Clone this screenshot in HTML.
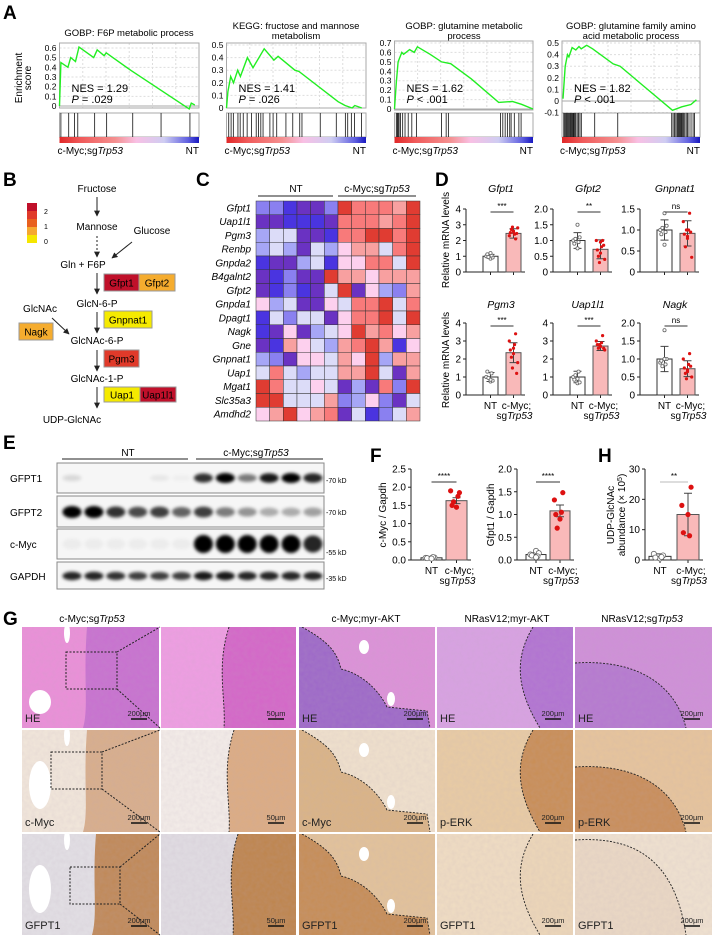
<!DOCTYPE html>
<html><head><meta charset="utf-8"><style>
html,body{margin:0;padding:0;background:#fff;}
svg{display:block;font-family:"Liberation Sans",Arial,sans-serif;}
.pl{font-weight:bold;font-size:19px;}
.t9{font-size:9.5px;}
.t10{font-size:10px;}
.t11{font-size:11px;}
</style></head><body>
<svg id="fig" width="714" height="936" viewBox="0 0 714 936" xmlns="http://www.w3.org/2000/svg">
<defs>
<marker id="arr" viewBox="0 0 10 10" refX="9" refY="5" markerWidth="6" markerHeight="6" orient="auto"><path d="M0,0L10,5L0,10z" fill="#222"/></marker>
<linearGradient id="rankbar" x1="0" x2="1"><stop offset="0" stop-color="#e02828"/><stop offset="0.15" stop-color="#f05a5a"/><stop offset="0.4" stop-color="#f49090"/><stop offset="0.55" stop-color="#f8c0e4"/><stop offset="0.75" stop-color="#cfcdf2"/><stop offset="0.92" stop-color="#6060e0"/><stop offset="1" stop-color="#1818c0"/></linearGradient>
<filter id="blur" x="-50%" y="-100%" width="200%" height="300%"><feGaussianBlur stdDeviation="1.6"/></filter>
<filter id="tex" x="0" y="0" width="100%" height="100%"><feTurbulence type="fractalNoise" baseFrequency="0.25" numOctaves="2" seed="3"/><feColorMatrix values="0 0 0 0 0.5  0 0 0 0 0.4  0 0 0 0 0.5  0 0 0 0.35 -0.05"/><feComposite in2="SourceGraphic" operator="in"/></filter>
</defs>

<text class="pl" x="3" y="19">A</text>
<text class="pl" x="3" y="186">B</text>
<text class="pl" x="196" y="186">C</text>
<text class="pl" x="435" y="186">D</text>
<text class="pl" x="3" y="449">E</text>
<text class="pl" x="370" y="462">F</text>
<text class="pl" x="598" y="462">H</text>
<text class="pl" x="3" y="625">G</text>

<g class="t9" text-anchor="middle">
<text x="129" y="36">GOBP: F6P metabolic process</text>
<text x="296" y="29">KEGG: fructose and mannose</text><text x="296" y="39">metabolism</text>
<text x="464" y="29">GOBP: glutamine metabolic</text><text x="464" y="39">process</text>
<text x="631" y="29">GOBP: glutamine family amino</text><text x="631" y="39">acid metabolic process</text>
</g>
<g class="t10">
<text transform="translate(22,78) rotate(-90)" text-anchor="middle">Enrichment</text>
<text transform="translate(31,78) rotate(-90)" text-anchor="middle">score</text>
</g>
<g id="gsea"></g>

<g class="t10" text-anchor="middle">
<rect x="27" y="203" width="10" height="8" fill="#c0102a"/><rect x="27" y="211" width="10" height="8" fill="#e03a2a"/><rect x="27" y="219" width="10" height="8" fill="#e8601e"/><rect x="27" y="227" width="10" height="8" fill="#f5a830"/><rect x="27" y="235" width="10" height="8" fill="#f5e600"/>
<text x="44" y="214" font-size="7" text-anchor="start">2</text><text x="44" y="229" font-size="7" text-anchor="start">1</text><text x="44" y="244" font-size="7" text-anchor="start">0</text>
<text x="97" y="192">Fructose</text>
<line x1="97" y1="197" x2="97" y2="216" stroke="#222" marker-end="url(#arr)"/>
<text x="97" y="230">Mannose</text>
<line x1="97" y1="236" x2="97" y2="257" stroke="#222" stroke-dasharray="2,2" marker-end="url(#arr)"/>
<text x="152" y="234">Glucose</text>
<line x1="132" y1="242" x2="112" y2="258" stroke="#222" marker-end="url(#arr)"/>
<text x="83" y="268">Gln + F6P</text>
<line x1="97" y1="273" x2="97" y2="294" stroke="#222" marker-end="url(#arr)"/>
<rect x="104" y="274" width="35" height="17" fill="#c0102a" stroke="#999"/><text x="121.5" y="286.5">Gfpt1</text>
<rect x="139" y="274" width="36" height="17" fill="#f5ac2e" stroke="#999"/><text x="157" y="286.5">Gfpt2</text>
<text x="97" y="307">GlcN-6-P</text>
<line x1="97" y1="312" x2="97" y2="333" stroke="#222" marker-end="url(#arr)"/>
<rect x="104" y="311" width="48" height="17" fill="#f5ea00" stroke="#999"/><text x="128" y="323.5">Gnpnat1</text>
<text x="40" y="312">GlcNAc</text>
<line x1="52" y1="318" x2="69" y2="334" stroke="#222" marker-end="url(#arr)"/>
<rect x="19" y="323" width="34" height="17" fill="#f5ac2e" stroke="#999"/><text x="36" y="335.5">Nagk</text>
<text x="97" y="344">GlcNAc-6-P</text>
<line x1="97" y1="350" x2="97" y2="371" stroke="#222" marker-end="url(#arr)"/>
<rect x="104" y="350" width="35" height="17" fill="#e03a2a" stroke="#999"/><text x="121.5" y="362.5">Pgm3</text>
<text x="97" y="382">GlcNAc-1-P</text>
<line x1="97" y1="387" x2="97" y2="408" stroke="#222" marker-end="url(#arr)"/>
<rect x="104" y="387" width="36" height="15" fill="#f5ea00" stroke="#999"/><text x="122" y="398.5">Uap1</text>
<rect x="140" y="387" width="36" height="15" fill="#c0102a" stroke="#999"/><text x="158" y="398.5">Uap1l1</text>
<text x="72" y="423">UDP-GlcNAc</text>
</g>

<g class="t10" text-anchor="middle">
<text x="296" y="192">NT</text><line x1="258" y1="196" x2="333" y2="196" stroke="#222"/>
<text x="377" y="192">c-Myc;sg<tspan font-style="italic">Trp53</tspan></text><line x1="338" y1="196" x2="416" y2="196" stroke="#222"/>
</g>
<g id="heat"></g>

<g class="t10">
<text transform="translate(449,240) rotate(-90)" text-anchor="middle">Relative mRNA levels</text>
<text transform="translate(449,360) rotate(-90)" text-anchor="middle">Relative mRNA levels</text>
</g>
<g id="dcharts"></g>

<g class="t10" text-anchor="middle">
<text x="128" y="456">NT</text><line x1="62" y1="459" x2="188" y2="459" stroke="#222"/>
<text x="256" y="456">c-Myc;sg<tspan font-style="italic">Trp53</tspan></text><line x1="196" y1="459" x2="323" y2="459" stroke="#222"/>
</g>
<g id="western"></g>

<g id="fh"></g>

<g class="t10" text-anchor="middle">
<text x="92" y="622">c-Myc;sg<tspan font-style="italic">Trp53</tspan></text>
<text x="366" y="622">c-Myc;myr-AKT</text>
<text x="507" y="622">NRasV12;myr-AKT</text>
<text x="642" y="622">NRasV12;sg<tspan font-style="italic">Trp53</tspan></text>
</g>
<g id="histo"></g>
</svg>

<script>
const NS='http://www.w3.org/2000/svg';
function mk(tag,attrs,parent){const e=document.createElementNS(NS,tag);for(const k in attrs)e.setAttribute(k,attrs[k]);parent.appendChild(e);return e;}

/* ---------- A: GSEA data ---------- */
const gseaCurve1=[[0,0],[0.01,0.45],[0.06,0.40],[0.08,0.50],[0.115,0.46],[0.14,0.61],[0.245,0.50],[0.27,0.58],[0.32,0.52],[0.335,0.55],[0.51,0.37],[0.93,-0.03],[0.945,0.03],[0.97,0.01]];
const gseaCurve2=[[0,0],[0.01,0.13],[0.03,0.25],[0.05,0.2],[0.08,0.3],[0.1,0.25],[0.15,0.4],[0.19,0.32],[0.27,0.47],[0.34,0.38],[0.37,0.41],[0.49,0.3],[0.52,0.29],[0.8,0.05],[0.85,0.02],[0.9,0],[0.92,0.02],[0.97,0]];
const gseaCurve3=[[0,0],[0.013,0.28],[0.026,0.5],[0.053,0.6],[0.066,0.58],[0.109,0.63],[0.142,0.6],[0.165,0.66],[0.257,0.58],[0.34,0.5],[0.406,0.48],[0.554,0.32],[0.752,0.07],[0.851,0.08],[0.917,0.05],[1,0]];
const gseaCurve4=[[0.007,0.02],[0.023,0.3],[0.04,0.4],[0.05,0.38],[0.073,0.46],[0.1,0.44],[0.123,0.47],[0.139,0.45],[0.179,0.48],[0.222,0.45],[0.371,0.32],[0.421,0.3],[0.57,0.15],[0.801,-0.08],[0.868,-0.05],[0.934,-0.03],[0.974,0.01]];
const gseaHits1=[0.01,0.066,0.108,0.131,0.252,0.338,0.525,0.728,0.935];
const gseaHits2=[0.016,0.033,0.049,0.082,0.098,0.12,0.148,0.18,0.213,0.23,0.246,0.262,0.311,0.334,0.36,0.426,0.475,0.525,0.541,0.672,0.787,0.852,0.869,0.895,0.918,0.967];
const gseaHits3=[0.013,0.02,0.026,0.033,0.043,0.059,0.076,0.099,0.125,0.158,0.34,0.373,0.389,0.766,0.782,0.799,0.815,0.832,0.842,0.865,0.898,0.914];
const gseaHits4=[0.013,0.02,0.027,0.033,0.04,0.046,0.053,0.06,0.066,0.073,0.08,0.086,0.093,0.1,0.11,0.12,0.13,0.14,0.237,0.404,0.795,0.805,0.815,0.825,0.834,0.841,0.848,0.855,0.862,0.868,0.875,0.882,0.89,0.9,0.91,0.92,0.935,0.95,0.96];
const gseaTicks1=[0,0.1,0.2,0.3,0.4,0.5,0.6];
const gseaTicks2=[0,0.1,0.2,0.3,0.4,0.5];
const gseaTicks3=[0,0.1,0.2,0.3,0.4,0.5,0.6,0.7];
const gseaTicks4=[-0.1,0,0.1,0.2,0.3,0.4,0.5];
const gseaNES=['NES = 1.29','NES = 1.41','NES = 1.62','NES = 1.82'];
const gseaP=['= .029','= .026','< .001','< .001'];

const gseaLayout=[
 {x0:59.5,x1:199,y0:43,y1:108,zeroY:106,unit:96.7},
 {x0:226.5,x1:366,y0:43,y1:108,zeroY:108,unit:126},
 {x0:394.5,x1:533,y0:41,y1:110,zeroY:109,unit:94.3},
 {x0:562,x1:700,y0:41,y1:114,zeroY:101,unit:116}
];
const gseaCurves=[gseaCurve1,gseaCurve2,gseaCurve3,gseaCurve4];
const gseaHits=[gseaHits1,gseaHits2,gseaHits3,gseaHits4];
const gseaTicks=[gseaTicks1,gseaTicks2,gseaTicks3,gseaTicks4];
const gG=document.getElementById('gsea');
gseaLayout.forEach((L,i)=>{
  const g=mk('g',{},gG);
  
  
  const xs=f=>L.x0+f*(L.x1-L.x0);
  const ys=v=>L.zeroY-v*L.unit;
  for(let k=1;k<6;k++){mk('line',{x1:xs(k/6),x2:xs(k/6),y1:L.y0,y2:L.y1,stroke:'#ddd','stroke-dasharray':'2,2'},g);}
  gseaTicks[i].forEach(t=>{
    const y=ys(t);
    mk('line',{x1:L.x0,x2:L.x1,y1:y,y2:y,stroke:'#ddd','stroke-dasharray':'2,2'},g);
    const tl=mk('text',{x:L.x0-3,y:y+3,'font-size':'8.5','text-anchor':'end'},g);
    tl.textContent=String(t);
    
    
  });
  mk('line',{x1:L.x0,x2:L.x1,y1:ys(0),y2:ys(0),stroke:'#aaa'},g);
  const fr=mk('rect',{x:L.x0,y:L.y0,width:L.x1-L.x0,height:L.y1-L.y0,fill:'none',stroke:'#aaa'},g);
  
  
  const pts=gseaCurves[i].map(p=>xs(p[0]).toFixed(1)+','+ys(p[1]).toFixed(1)).join(' ');
  const pl=mk('polyline',{points:pts,fill:'none',stroke:'#22ee22','stroke-width':'1.4'},g);
  
  
  const hb=mk('rect',{x:L.x0,y:113,width:L.x1-L.x0,height:24,fill:'#fff',stroke:'#aaa'},g);
  
  
  gseaHits[i].forEach(h=>{
    const hl=mk('line',{x1:xs(h),x2:xs(h),y1:113,y2:137,stroke:'#111','stroke-width':'0.8'},g);
    
    
  });
  const rb=mk('rect',{x:L.x0,y:137,width:L.x1-L.x0,height:6,fill:'url(#rankbar)'},g);
  
  
  const t1=mk('text',{x:L.x0+12,y:92,'font-size':'11'},g);
  t1.textContent=gseaNES[i];
  
  
  const t2=mk('text',{x:L.x0+12,y:103,'font-size':'11'},g);
  t2.innerHTML='<tspan font-style="italic">P</tspan> '+gseaP[i];
  
  
  const bl=mk('text',{x:L.x0-2,y:154,'font-size':'10'},g);
  bl.innerHTML='c-Myc;sg<tspan font-style="italic">Trp53</tspan>';
  
  
  const br=mk('text',{x:L.x1,y:154,'font-size':'10','text-anchor':'end'},g);
  br.textContent='NT';
  
  
});

/* ---------- C: heatmap ---------- */
const heatRowNames=['Gfpt1','Uap1l1','Pgm3','Renbp','Gnpda2','B4galnt2','Gfpt2','Gnpda1','Dpagt1','Nagk','Gne','Gnpnat1','Uap1','Mgat1','Slc35a3','Amdhd2'];
const heatCodes=[
'MMBPPMDRRRSD','PPBBBPRRRSRD','LWWPPBRRDDRD','LWLPWLKSSWRD','BPPLWBKKRRWD','PBMPPDSSKSSS','PBMBPWDPKLMS','KLWPPKWRRDWR','BWMWWPKRRDWD','BPKPLWKDSRKS','PBSKWLSRDSBK','LMPKKWSKDLSS','WRWLWWSSDWPS','DRWWKWPLPRMD','DDWWWSMLKMPW','KSDKSRPWBMWS'];
const heatCodeVal={B:-2,P:-1.7,M:-1.3,L:-0.9,W:-0.4,K:0.3,S:0.8,R:1.3,D:2};
const heatValues=heatCodes.map(r=>r.split('').map(c=>heatCodeVal[c]));
const heatStops=[[-2,[74,52,224]],[-1.7,[106,50,194]],[-1.3,[138,128,240]],[-0.9,[166,166,246]],[-0.4,[220,220,248]],[0.3,[253,208,238]],[0.8,[248,160,160]],[1.3,[248,122,122]],[2,[224,60,50]]];
function heatColor(v){for(let i=0;i<heatStops.length-1;i++){const a=heatStops[i],b=heatStops[i+1];if(v<=b[0]){const t=Math.max(0,(v-a[0])/(b[0]-a[0]));const c=a[1].map((x,j)=>Math.round(x+(b[1][j]-x)*t));return 'rgb('+c+')';}}return 'rgb(224,60,50)';}
const hG=document.getElementById('heat');
const hx0=256,hx1=420,hy0=201;
const cw=(hx1-hx0)/12;
const rh2=(421-201)/heatRowNames.length;
heatRowNames.forEach((nm,r)=>{
  const lab=mk('text',{x:hx0-5,y:hy0+r*rh2+rh2/2+3.5,'font-size':'10','font-style':'italic','text-anchor':'end'},hG);
  lab.textContent=nm;
  
  
  heatValues[r].forEach((v,c)=>{
    const cell=mk('rect',{x:hx0+c*cw,y:hy0+r*rh2,width:cw,height:rh2,fill:heatColor(v),stroke:'#333','stroke-width':'0.5'},hG);
    
    
  });
});

/* ---------- D: qPCR bar charts ---------- */
const dGenes=['Gfpt1','Gfpt2','Gnpnat1','Pgm3','Uap1l1','Nagk'];
const dMax=[4,2,1.5,4,4,2];
const dStep=[1,0.5,0.5,1,1,0.5];
const dNtMean=[1,1,1,1,1,1];
const dNtSd=[0.12,0.25,0.24,0.25,0.32,0.35];
const dTrMean=[2.45,0.72,0.92,2.35,2.72,0.73];
const dTrSd=[0.3,0.3,0.3,0.55,0.25,0.22];
const dSig=['***','**','ns','***','***','ns'];
const dNtPts=[[0.85,0.92,1.0,1.05,1.12,1.2,0.95],[1.5,1.1,1.0,0.95,0.9,0.75,1.05],[1.4,1.1,1.0,0.95,0.9,0.65,1.05],[0.75,0.8,1.0,1.2,1.3,0.85,0.95],[0.65,0.7,1.0,1.3,0.85,0.9,1.1],[1.8,1.0,0.9,0.85,0.95,1.0,0.8]];
const dTrPts=[[2.1,2.3,2.4,2.5,2.6,2.7,2.8,2.85,2.45,2.55],[1.0,1.0,0.8,0.7,0.6,0.5,0.4,0.3,0.85,0.95],[1.4,1.2,1.0,0.9,0.8,0.6,0.35,1.0,0.95,0.85],[3.4,3.0,2.8,2.5,2.3,2.1,1.8,1.5,1.2,2.6],[3.3,3.0,2.9,2.8,2.7,2.6,2.5,2.8,2.6,2.7],[1.15,1.0,0.85,0.75,0.7,0.6,0.5,0.45,0.8,0.65]];
const dLayout=[{ax:466,top:209,zero:272,ty:192},{ax:553,top:209,zero:272,ty:192},{ax:640,top:209,zero:272,ty:192},{ax:466,top:323,zero:395,ty:308},{ax:553,top:323,zero:395,ty:308},{ax:640,top:323,zero:395,ty:308}];
const dG=document.getElementById('dcharts');
function jitter(k,n){return (k%2?1:-1)*((k*37)%5)/5*0.35*n;}
function barChart(parent,L,maxV,step,ntM,ntSd,trM,trSd,ntP,trP,sig,bw,gap,opts){
  const ys=v=>L.zero-(v/maxV)*(L.zero-L.top);
  const ntC=L.ax+gap+bw/2, trC=ntC+bw+opts.between;
  mk('line',{x1:L.ax,x2:L.ax,y1:L.top,y2:L.zero,stroke:'#222'},parent);
  mk('line',{x1:L.ax,x2:trC+bw/2+4,y1:L.zero,y2:L.zero,stroke:'#222'},parent);
  for(let v=0;v<=maxV+1e-9;v+=step){
    const y=ys(v);
    mk('line',{x1:L.ax-3,x2:L.ax,y1:y,y2:y,stroke:'#222'},parent);
    const t=mk('text',{x:L.ax-5,y:y+3.5,'font-size':opts.fs,'text-anchor':'end'},parent);
    t.textContent=opts.fmt(v);
    
    
  }
  [ntC,trC].forEach(c=>mk('line',{x1:c,x2:c,y1:L.zero,y2:L.zero+3,stroke:'#222'},parent));
  const b1=mk('rect',{x:ntC-bw/2,y:ys(ntM),width:bw,height:L.zero-ys(ntM),fill:'#fff',stroke:'#333'},parent);
  
  
  const b2=mk('rect',{x:trC-bw/2,y:ys(trM),width:bw,height:L.zero-ys(trM),fill:'#f9b9b9',stroke:'#555'},parent);
  
  
  [[ntC,ntM,ntSd],[trC,trM,trSd]].forEach(a=>{
    const eb=mk('path',{d:`M${a[0]},${ys(a[1]-a[2])}V${ys(a[1]+a[2])}M${a[0]-4},${ys(a[1]-a[2])}h8M${a[0]-4},${ys(a[1]+a[2])}h8`,stroke:'#444',fill:'none'},parent);
    
    
  });
  ntP.forEach((v,k)=>{
    const p=mk('circle',{cx:ntC+jitter(k,bw),cy:ys(v),r:opts.r,fill:'#fff',stroke:'#666','stroke-width':'0.8'},parent);
    
    
  });
  trP.forEach((v,k)=>{
    const p=mk('circle',{cx:trC+jitter(k+1,bw),cy:ys(v),r:opts.r,fill:'#dd1111'},parent);
    
    
  });
  mk('line',{x1:ntC,x2:trC,y1:L.sigY,y2:L.sigY,stroke:opts.sigStroke||'#333'},parent);
  const s=mk('text',{x:(ntC+trC)/2,y:L.sigY-3,'font-size':'8','text-anchor':'middle'},parent);
  s.textContent=sig;
  
  
  if(opts.xlabels){
    const a=mk('text',{x:ntC,y:L.zero+14,'font-size':opts.fs,'text-anchor':'middle'},parent);a.textContent='NT';
    
    
    const b=mk('text',{x:trC+3,y:L.zero+14,'font-size':opts.fs,'text-anchor':'middle'},parent);b.textContent='c-Myc;';
    
    
    const c=mk('text',{x:trC+1,y:L.zero+24,'font-size':opts.fs,'text-anchor':'middle'},parent);c.innerHTML='sg<tspan font-style="italic">Trp53</tspan>';
    
    
  }
}
dGenes.forEach((gName,i)=>{
  const L=Object.assign({},dLayout[i]);L.sigY=L.top+3;
  const g=mk('g',{},dG);
  
  
  const t=mk('text',{x:L.ax+35,y:L.ty,'font-size':'10.5','font-style':'italic','text-anchor':'middle'},g);
  t.textContent=gName;
  
  
  barChart(g,L,dMax[i],dStep[i],dNtMean[i],dNtSd[i],dTrMean[i],dTrSd[i],dNtPts[i],dTrPts[i],dSig[i],15,17,{between:8,fs:'10',r:1.6,fmt:v=>dStep[i]<1?(v===0?'0':v.toFixed(1)):String(v),xlabels:i>=3});
});

/* ---------- E: western blot ---------- */
const wbLanes=[1,2,3,4,5,6,7,8,9,10,11,12];
const wbGFPT1=[0.12,0,0,0,0.06,0.03,0.8,1,0.5,0.9,1,0.85];
const wbGFPT2=[1,1,0.8,0.7,0.75,0.6,0.75,0.5,0.4,0.3,0.3,0.35];
const wbCMYC=[0.04,0.04,0.04,0.04,0.04,0.04,1,1,1,1,1,0.85];
const wbGAPDH=[0.85,0.85,0.8,0.75,0.75,0.75,0.9,0.9,0.85,0.85,0.85,0.85];
const wbNames=['GFPT1','GFPT2','c-Myc','GAPDH'];
const wbData=[wbGFPT1,wbGFPT2,wbCMYC,wbGAPDH];
const wbBoxes=[[463,493,478,5],[496,527,512,6],[529,559,544,9],[562,589,576,4.5]];
const wbKD=[['70 kD',480],['70 kD',512],['55 kD',552],['35 kD',578]];
const wG=document.getElementById('western');
const laneX=n=>72+(n-1)*21.9;
wbNames.forEach((nm,i)=>{
  const B=wbBoxes[i];
  const g=mk('g',{},wG);
  
  
  mk('rect',{x:57,y:B[0],width:267,height:B[1]-B[0],fill:'#f6f6f6',stroke:'#888'},g);
  const l=mk('text',{x:10,y:B[2]+4,'font-size':'10'},g);l.textContent=nm;
  
  
  wbData[i].forEach((v,k)=>{
    const e=mk('ellipse',{cx:laneX(wbLanes[k]),cy:B[2],rx:9.5,ry:B[3]*(0.6+0.4*v),fill:'#000','fill-opacity':v,filter:'url(#blur)'},g);
    
    
  });
  const kd=mk('text',{x:326,y:wbKD[i][1]+3,'font-size':'7'},g);kd.textContent='-'+wbKD[i][0];
  
  
});

/* ---------- F/H ---------- */
const fMyc=[0.06,1.63],fMycSd=[0.02,0.08];
const fMycNt=[0.05,0.07,0.06,0.08,0.05,0.04],fMycTr=[1.85,1.9,1.75,1.5,1.45,1.6];
const fGfpt=[0.12,1.08],fGfptSd=[0.04,0.13];
const fGfptNt=[0.2,0.15,0.12,0.08,0.1,0.06],fGfptTr=[1.48,1.32,1.05,1.0,0.9,0.7];
const hUdp=[1.2,15],hUdpSd=[0.8,7];
const hUdpNt=[0.5,1.5,2.0,1.0,0.8],hUdpTr=[24,18,8,9,15];
const fhG=document.getElementById('fh');
const fhCharts=[
 {name:'c-myc-gapdh',title:'c-Myc / Gapdh',tx:386,ax:411,max:2.5,step:0.5,fmt:v=>v.toFixed(1),m:fMyc,sd:fMycSd,nt:fMycNt,tr:fMycTr,sig:'****',bw:21,gap:10,between:4},
 {name:'gfpt1-gapdh',title:'Gfpt1 / Gapdh',tx:494,ax:517,max:2.0,step:0.5,fmt:v=>v.toFixed(1),m:fGfpt,sd:fGfptSd,nt:fGfptNt,tr:fGfptTr,sig:'****',bw:20,gap:9,between:4},
 {name:'udp-glcnac',title:null,tx:0,ax:645,max:30,step:10,fmt:v=>String(v),m:hUdp,sd:hUdpSd,nt:hUdpNt,tr:hUdpTr,sig:'**',bw:22,gap:4,between:6}
];
fhCharts.forEach(c=>{
  const g=mk('g',{},fhG);
  
  
  const L={ax:c.ax,top:469,zero:560,sigY:482};
  barChart(g,L,c.max,c.step,c.m[0],c.sd[0],c.m[1],c.sd[1],c.nt,c.tr,c.sig,c.bw,c.gap,{between:c.between,fs:'10',r:2.6,fmt:c.fmt,xlabels:true,sigStroke:c.sig==='**'?'#bbb':'#333'});
  if(c.title){
    const t=mk('text',{transform:`translate(${c.tx},515) rotate(-90)`,'font-size':'10','text-anchor':'middle'},g);
    t.textContent=c.title;
    
    
  } else {
    const t1=mk('text',{transform:'translate(614,515) rotate(-90)','font-size':'10','text-anchor':'middle'},g);
    t1.textContent='UDP-GlcNAc';
    
    
    const t2=mk('text',{transform:'translate(625,515) rotate(-90)','font-size':'10','text-anchor':'middle'},g);
    t2.innerHTML='abundance (× 10<tspan baseline-shift="super" font-size="7">5</tspan>)';
    
    
  }
});

/* ---------- G: histology ---------- */
const hisG=document.getElementById('histo');
const cols=[[22,159],[161,296],[299,435],[437,573],[575,712]];
const rows=[[627,728],[730,832],[834,935]];
const rowLabels=[['HE','','HE','HE','HE'],['c-Myc','','c-Myc','p-ERK','p-ERK'],['GFPT1','','GFPT1','GFPT1','GFPT1']];
const bgCol=[
 ['#ea90d8','#ee9ee2','#dc92d8','#d8a2e2','#cf90d8'],
 ['#f1e6da','#f3ece8','#efe0cc','#e8cba4','#e6c49c'],
 ['#e2dfe4','#e0dce2','#e2c29a','#efdcc2','#efe1cf']];
const tumCol=[
 ['#c872d0','#d468c8','#9e6ac8','#b274d2','#b67ad0'],
 ['#d8ae8c','#dcac84','#dab487','#c98f58','#c98f5c'],
 ['#c08a5a','#be8650','#c68e58','#ecd6b8','#ead8c4']];
function tumorPath(c,r){
  const [x0,x1]=cols[c],[y0,y1]=rows[r];
  if(c===0){const bx=r===2?96:87;return `M${bx},${y0}C${bx-4},${(y0+y1)/2} ${bx+2},${y1-20} ${bx-4},${y1}L${x1},${y1}L${x1},${y0}Z`;}
  if(c===1){const bx=r===0?224:(r===1?229:233);return `M${bx+5},${y0}C${bx-8},${y0+40} ${bx+2},${y1-30} ${bx},${y1}L${x1},${y1}L${x1},${y0}Z`;}
  if(c===2){return `M${x0},${y0}L${x0+3},${y0}C${x0+30},${y0+15} ${x0+38},${y0+25} ${x0+42},${y0+42}C${x0+60},${y0+46} ${x0+78},${y0+60} ${x0+88},${y0+80}L${x1-8},${y0+84}L${x1-5},${y1}L${x0},${y1}Z`;}
  if(c===3){return `M${x0+96},${y0}C${x0+78},${y0+30} ${x0+78},${y0+60} ${x0+103},${y1}L${x1},${y1}L${x1},${y0}Z`;}
  const sy=r===0?y0+36:(r===1?y0+37:y0+6);
  return `M${x0},${sy}C${x0+60},${sy-4} ${x0+100},${sy+20} ${x1-26},${y1}L${x0},${y1}Z`;
}
function boundaryPath(c,r){
  const [x0,x1]=cols[c],[y0,y1]=rows[r];
  if(c===2)return `M${x0+3},${y0}C${x0+30},${y0+15} ${x0+38},${y0+25} ${x0+42},${y0+42}C${x0+60},${y0+46} ${x0+78},${y0+60} ${x0+88},${y0+80}L${x1-8},${y0+84}L${x1-5},${y1}`;
  if(c===3)return `M${x0+96},${y0}C${x0+78},${y0+30} ${x0+78},${y0+60} ${x0+103},${y1}`;
  if(c===4){const sy=r===0?y0+36:(r===1?y0+37:y0+6);return `M${x0},${sy}C${x0+60},${sy-4} ${x0+100},${sy+20} ${x1-26},${y1}`;}
  if(c===1){const bx=r===0?224:(r===1?229:233);return `M${bx+5},${y0}C${bx-8},${y0+40} ${bx+2},${y1-30} ${bx},${y1}`;}
  return null;
}
rows.forEach((R,r)=>{
  cols.forEach((C,c)=>{
    const g=mk('g',{},hisG);
    
    
    const cp='cp'+r+'_'+c;
    const clip=mk('clipPath',{id:cp},g);mk('rect',{x:C[0],y:R[0],width:C[1]-C[0],height:R[1]-R[0]},clip);
    const inner=mk('g',{'clip-path':`url(#${cp})`},g);
    mk('rect',{x:C[0],y:R[0],width:C[1]-C[0],height:R[1]-R[0],fill:bgCol[r][c]},inner);
    mk('path',{d:tumorPath(c,r),fill:tumCol[r][c]},inner);
    mk('rect',{x:C[0],y:R[0],width:C[1]-C[0],height:R[1]-R[0],fill:'#fff',filter:'url(#tex)',opacity:'0.6'},inner);
    if(c===0){mk('ellipse',{cx:C[0]+18,cy:R[0]+(r===0?75:55),rx:11,ry:r===0?12:24,fill:'#fff'},inner);mk('ellipse',{cx:C[0]+45,cy:R[0]+6,rx:3,ry:10,fill:'#fff'},inner);}
    if(c===2){mk('ellipse',{cx:C[0]+65,cy:R[0]+20,rx:5,ry:7,fill:'#fff'},inner);mk('ellipse',{cx:C[0]+92,cy:R[0]+72,rx:4,ry:7,fill:'#fff'},inner);}
    const bp=boundaryPath(c,r);
    if(bp){const bl=mk('path',{d:bp,fill:'none',stroke:'#222','stroke-dasharray':'2,1.5','stroke-width':'0.9'},inner);
      
      }
    if(rowLabels[r][c]){const t=mk('text',{x:C[0]+3,y:R[1]-6,'font-size':'11',fill:'#222'},g);t.textContent=rowLabels[r][c];
      
      }
    const sb=mk('text',{x:C[1]-20,y:R[1]-12,'font-size':'7.5','text-anchor':'middle',fill:'#222'},g);sb.textContent=(c===1)?'50µm':'200µm';
    
    
    mk('line',{x1:C[1]-28,x2:C[1]-12,y1:R[1]-9,y2:R[1]-9,stroke:'#111','stroke-width':'1.5'},g);
  });
});
const zoomRects=[[66,652,117,689],[51,752,102,789],[70,867,120,904]];
zoomRects.forEach((z,r)=>{
  const R=rows[r];
  const zr=mk('rect',{x:z[0],y:z[1],width:z[2]-z[0],height:z[3]-z[1],fill:'none',stroke:'#222','stroke-dasharray':'2,1.5'},hisG);
  
  
  mk('line',{x1:z[2],y1:z[1],x2:160,y2:R[0],stroke:'#222','stroke-dasharray':'2,1.5'},hisG);
  mk('line',{x1:z[2],y1:z[3],x2:160,y2:R[1],stroke:'#222','stroke-dasharray':'2,1.5'},hisG);
});
</script>
</body></html>
